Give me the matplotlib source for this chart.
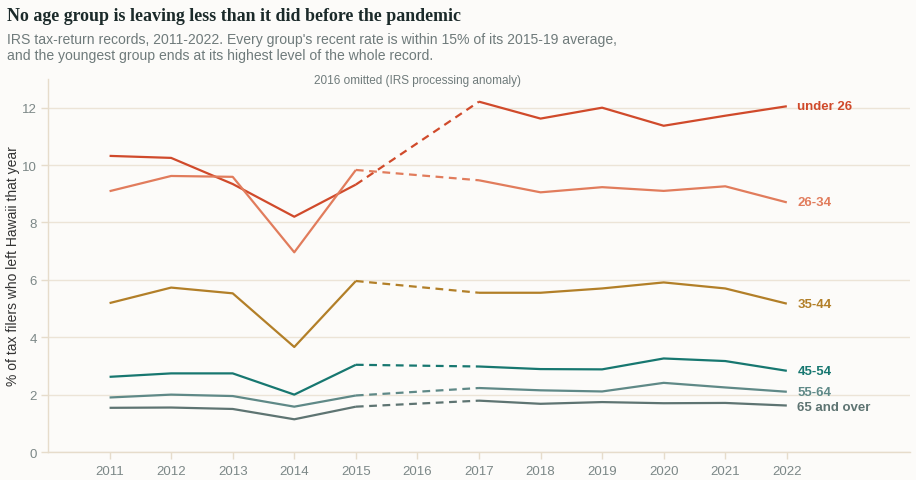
import matplotlib
matplotlib.use("Agg")
import matplotlib.pyplot as plt

years = [2011, 2012, 2013, 2014, 2015, 2017, 2018, 2019, 2020, 2021, 2022]
tick_years = list(range(2011, 2023))

groups = ["under 26", "26-34", "35-44", "45-54", "55-64", "65 and over"]
under26 = [10.32, 10.25, 9.34, 8.20, 9.32, 12.21, 11.62, 12.00, 11.37, 11.72, 12.05]
age26_34 = [9.09, 9.62, 9.59, 6.96, 9.83, 9.47, 9.05, 9.23, 9.10, 9.26, 8.70]
age35_44 = [5.19, 5.73, 5.53, 3.66, 5.96, 5.55, 5.55, 5.70, 5.91, 5.70, 5.17]
age45_54 = [2.62, 2.74, 2.74, 2.00, 3.04, 2.98, 2.89, 2.88, 3.26, 3.17, 2.83]
age55_64 = [1.90, 2.00, 1.95, 1.58, 1.97, 2.23, 2.15, 2.11, 2.41, 2.25, 2.10]
age65 = [1.54, 1.55, 1.50, 1.14, 1.58, 1.79, 1.68, 1.74, 1.70, 1.71, 1.62]
series = [under26, age26_34, age35_44, age45_54, age55_64, age65]
colors = ["#d04a2b", "#e17c5c", "#b27f28", "#177770", "#5f8987", "#5e7472"]
label_offsets = [0.0, 0.0, 0.0, 0.0, 0.0, -0.05]

bg = "#fcfbf9"
grid_c = "#ece4d7"
tick_c = "#7c8787"

fig = plt.figure(figsize=(9.16, 4.81), dpi=100, facecolor=bg)
ax = fig.add_axes([0.0524, 0.0582, 0.9410, 0.7755], facecolor=bg)

for vals, col, off, name in zip(series, colors, label_offsets, groups):
    pre_x = [y for y in years if y <= 2015]
    pre_y = vals[:len(pre_x)]
    post_x = [y for y in years if y >= 2017]
    post_y = vals[len(pre_x):]
    ax.plot(pre_x, pre_y, color=col, lw=1.6, solid_capstyle="butt")
    ax.plot(post_x, post_y, color=col, lw=1.6, solid_capstyle="butt")
    ax.plot([2015, 2017], [pre_y[-1], post_y[0]], color=col, lw=1.6,
            ls=(0, (3.5, 2.5)))
    ax.text(2022.17, post_y[-1] + off, name, color=col, fontsize=9.5,
            fontweight="bold", va="center", ha="left",
            family="Liberation Sans")

ax.set_xlim(2010, 2024)
ax.set_ylim(0, 13)
ax.set_xticks(tick_years)
ax.set_xticklabels([str(y) for y in tick_years])
ax.set_yticks(range(0, 13, 2))
ax.yaxis.grid(True, color=grid_c, lw=1)
ax.set_axisbelow(True)
for s in ["top", "right"]:
    ax.spines[s].set_visible(False)
for s in ["left", "bottom"]:
    ax.spines[s].set_color("#e6dccb")
    ax.spines[s].set_linewidth(1)
ax.tick_params(colors=tick_c, labelsize=9.5, length=5, width=1)
ax.tick_params(axis="x", color="#e6dccb", pad=4)
ax.tick_params(axis="y", color="#e6dccb", pad=3)
for lab in ax.get_xticklabels() + ax.get_yticklabels():
    lab.set_family("Liberation Sans")
    lab.set_color(tick_c)

ax.set_ylabel("% of tax filers who left Hawaii that year", fontsize=10,
              color="#333333", family="Liberation Sans")
ax.yaxis.set_label_coords(-0.0325, 0.5)

ax.text(2016, 12.97, "2016 omitted (IRS processing anomaly)", ha="center",
        va="center", fontsize=8.5, color="#6f7b7b", family="Liberation Sans")

fig.text(0.008, 0.965, "No age group is leaving less than it did before the pandemic",
         fontsize=12.9, fontweight="bold", family="Liberation Serif",
         color="#1b2a2a", va="center", ha="left")
fig.text(0.008, 0.9,
         "IRS tax-return records, 2011-2022. Every group's recent rate is within 15% of its 2015-19 average,\n"
         "and the youngest group ends at its highest level of the whole record.",
         fontsize=10.1, family="Liberation Sans", color="#6f7b7b",
         va="center", ha="left", linespacing=1.22)

fig.savefig("out.png", dpi=100, facecolor=bg)
